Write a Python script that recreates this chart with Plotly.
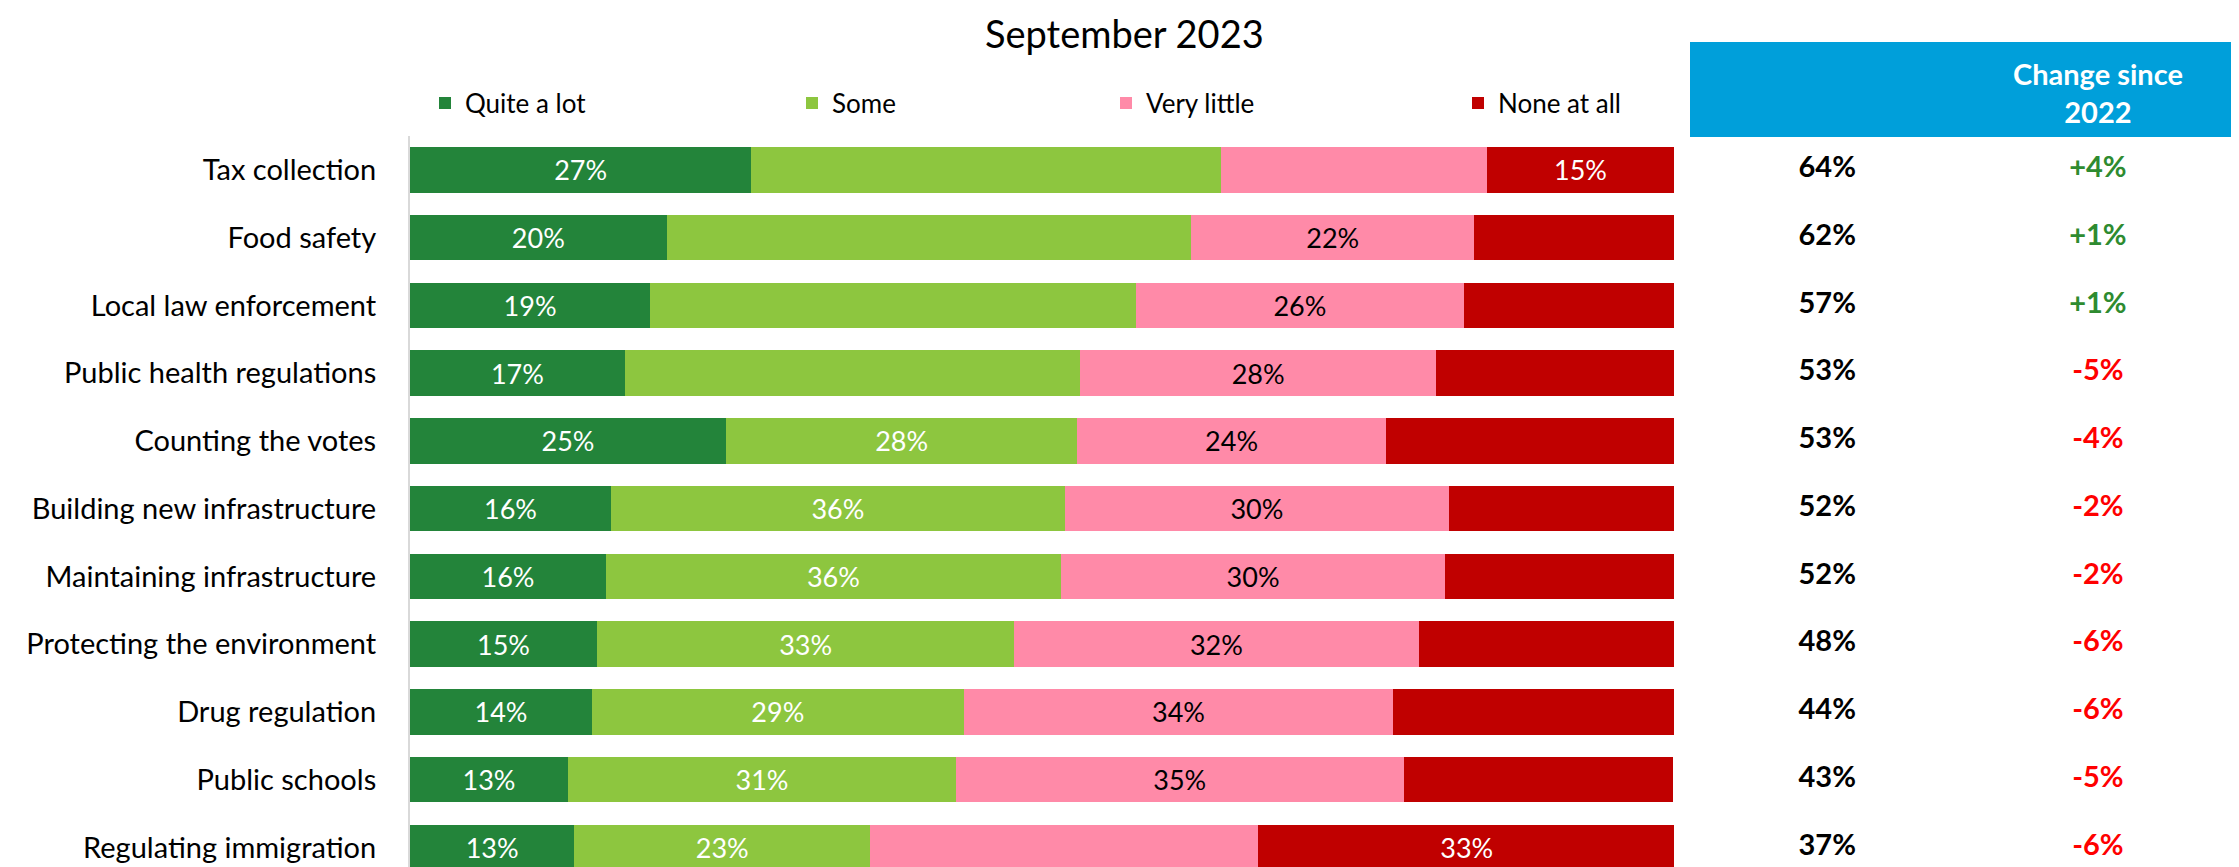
import plotly.graph_objects as go

# page is drawn with an 8px body margin, so figure coords = page coords - 8
OFF = 8
W, H = 2239 - OFF, 867 - OFF

categories = [
    "Tax collection", "Food safety", "Local law enforcement", "Public health regulations",
    "Counting the votes", "Building new infrastructure", "Maintaining infrastructure",
    "Protecting the environment", "Drug regulation", "Public schools", "Regulating immigration",
]
quite_a_lot = [27, 20.3, 19, 17, 25, 15.9, 15.5, 14.8, 14.4, 12.5, 13]
some = [37.2, 41.5, 38.4, 36, 27.8, 35.9, 36, 33, 29.4, 30.7, 23.4]
very_little = [21, 22.4, 26, 28.2, 24.4, 30.4, 30.4, 32, 34, 35.4, 30.7]
none_at_all = [14.8, 15.8, 16.7, 18.8, 22.9, 17.8, 18.2, 20.2, 22.2, 21.3, 33]

# which segments carry a data label in the original
show_quite = [1] * 11
show_some = [0, 0, 0, 0, 1, 1, 1, 1, 1, 1, 1]
show_little = [0, 1, 1, 1, 1, 1, 1, 1, 1, 1, 0]
show_none = [1, 0, 0, 0, 0, 0, 0, 0, 0, 0, 1]

net_confidence = [64, 62, 57, 53, 53, 52, 52, 48, 44, 43, 37]
change_since_2022 = [4, 1, 1, -5, -4, -2, -2, -6, -6, -5, -6]

series = [
    ("Quite a lot", quite_a_lot, show_quite, "#23843A", "white"),
    ("Some", some, show_some, "#8DC63F", "white"),
    ("Very little", very_little, show_little, "#FF8AA8", "black"),
    ("None at all", none_at_all, show_none, "#C00000", "white"),
]
legend_left = [443, 810, 1124, 1476]  # page x of each legend swatch

FONT = "Lato, Calibri, sans-serif"


def px(x):
    return (x - OFF) / W


def py(y):
    return 1 - (y - OFF) / H


fig = go.Figure()
legend_cfg = {}
for i, (name, vals, show, color, tcolor) in enumerate(series):
    key = "legend" if i == 0 else f"legend{i + 1}"
    fig.add_trace(go.Bar(
        y=categories, x=vals, name=name, orientation="h", legend=key,
        marker=dict(color=color, line=dict(width=0)),
        texttemplate=["%{x:.0f}%" if s else "" for s in show],
        textposition="inside", insidetextanchor="middle", textangle=0,
        textfont=dict(color=tcolor, size=27, family=FONT),
        constraintext="none", hoverinfo="skip",
    ))
    legend_cfg[key] = dict(
        orientation="h", x=(legend_left[i] - 18 - OFF) / W, xanchor="left",
        y=py(103), yanchor="middle", font=dict(size=26, family=FONT),
        bgcolor="rgba(0,0,0,0)",
    )

fig.add_trace(go.Scatter(
    x=[0.25] * len(categories), y=categories, xaxis="x2", yaxis="y",
    mode="text", text=[f"<b>{v}%</b>" for v in net_confidence],
    textfont=dict(size=29, color="black", family=FONT),
    showlegend=False, hoverinfo="skip",
))
fig.add_trace(go.Scatter(
    x=[0.743] * len(categories), y=categories, xaxis="x2", yaxis="y",
    mode="text", text=[f"<b>{v:+d}%</b>" for v in change_since_2022],
    textfont=dict(size=29, family=FONT,
                  color=["#2E8B30" if v > 0 else "#FF0000" for v in change_since_2022]),
    showlegend=False, hoverinfo="skip",
))

fig.update_layout(
    width=W, height=H,
    margin=dict(l=0, r=0, t=0, b=0),
    paper_bgcolor="white", plot_bgcolor="white",
    barmode="stack", bargap=0.326,
    font=dict(family=FONT, size=26, color="black"),
    xaxis=dict(domain=[px(410), px(1674)], range=[0, 100], visible=False, fixedrange=True),
    xaxis2=dict(domain=[px(1690), 1], range=[0, 1], visible=False, anchor="y"),
    yaxis=dict(
        domain=[0, py(136)], categoryorder="array", categoryarray=categories,
        range=[10.29, -0.5], showgrid=False, zeroline=False,
        showline=True, linecolor="#D9D9D9", linewidth=2, ticks="",
        ticklabelstandoff=26, tickfont=dict(size=29, family=FONT),
    ),
    shapes=[dict(
        type="rect", xref="paper", yref="paper",
        x0=px(1690), x1=1, y0=py(137), y1=py(42),
        fillcolor="#009FDA", line=dict(width=0), layer="below",
    )],
    annotations=[
        dict(text="September 2023", xref="paper", yref="paper", x=px(1124), y=1,
             showarrow=False, font=dict(size=38, family=FONT, color="black"),
             xanchor="center", yanchor="top"),
        dict(text="<b>Change since<br>2022</b>", xref="paper", yref="paper",
             x=px(2098), y=py(92), showarrow=False, align="center",
             font=dict(size=29, family=FONT, color="white"),
             xanchor="center", yanchor="middle"),
    ],
    **legend_cfg,
)

fig.write_html("out.html")
